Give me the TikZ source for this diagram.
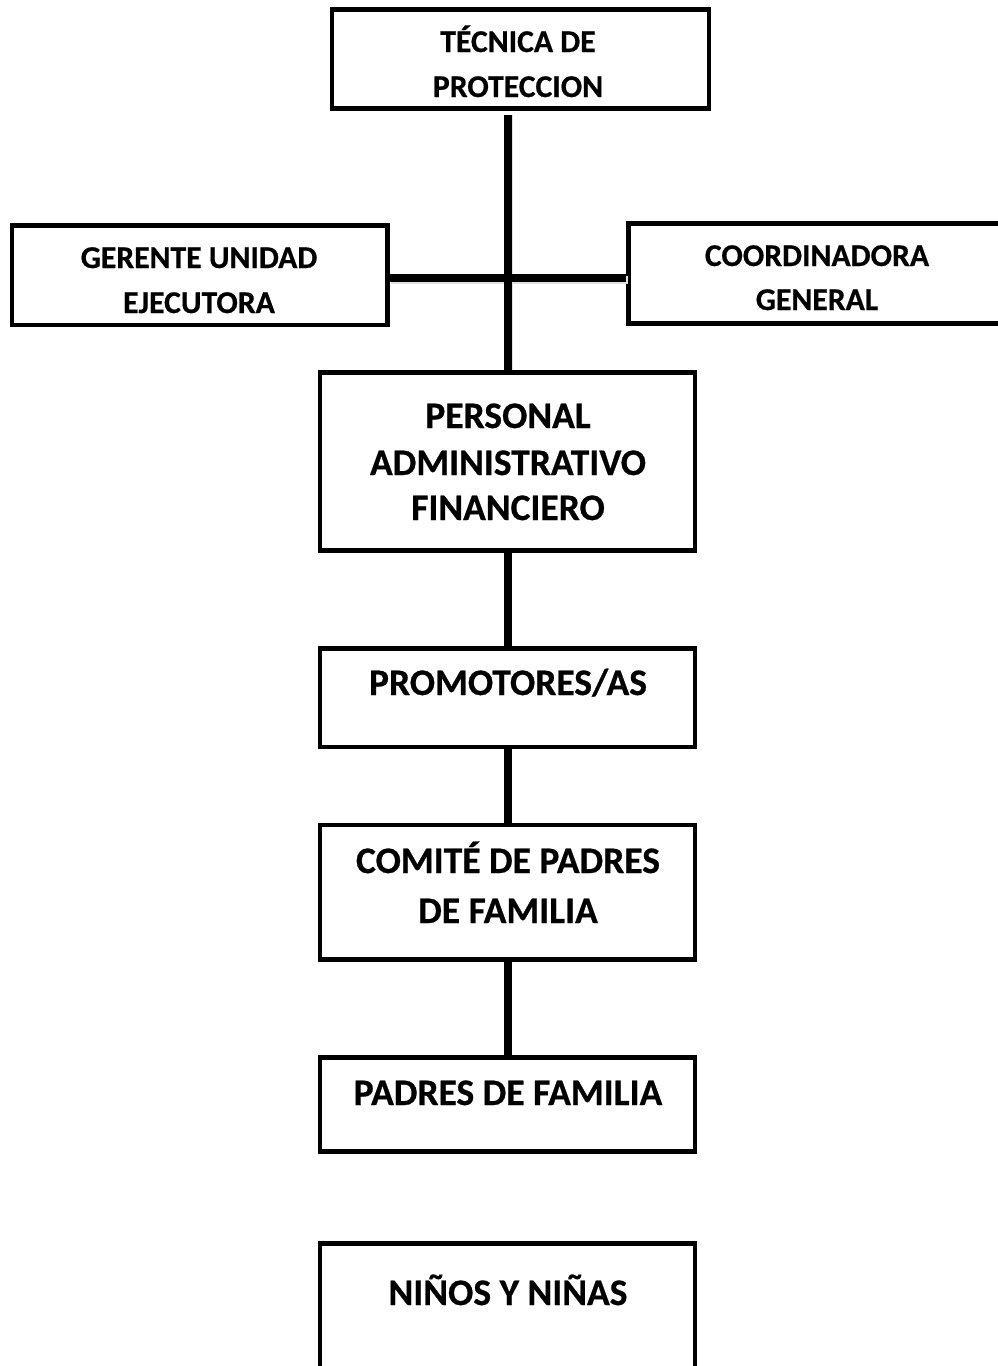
\documentclass[tikz,border=0pt]{standalone}
\usepackage{fontspec}
\setmainfont{Carlito}[BoldFeatures={FakeBold=0.6}]
\begin{document}
\begin{tikzpicture}[x=1pt,y=-1pt,
  box/.style={draw=black, line width=4.5pt, rectangle, inner sep=0pt, fill=white},
  conn/.style={line width=8pt, black},
  shad/.style={line width=8pt, black!12},
  big/.style={anchor=base, inner sep=0pt, font=\bfseries\fontsize{37.5}{44}\selectfont},
  sml/.style={anchor=base, inner sep=0pt, font=\bfseries\fontsize{31.7}{37}\selectfont},
]
\useasboundingbox (0,0) rectangle (998,1366);

% boxes
\node[box, minimum width=377pt, minimum height=99pt]   (tec) at (520.5,59) {};
\node[box, minimum width=375.5pt, minimum height=99.5pt] (ger) at (199.75,275.25) {};
\node[box, minimum width=377pt, minimum height=100pt]  (coo) at (817,273.5) {};
\node[box, minimum width=375pt, minimum height=178pt]  (per) at (507.5,461.5) {};
\node[box, minimum width=375pt, minimum height=98.5pt] (pro) at (507.5,697.75) {};
\node[box, minimum width=375pt, minimum height=134.5pt] (com) at (507.5,892.25) {};
\node[box, minimum width=375pt, minimum height=94pt]   (pad) at (507.5,1104.5) {};
\node[box, minimum width=375pt, minimum height=150pt]  (nin) at (507.5,1318.5) {};

% connectors (shadow first)
\draw[shad] ([xshift=1.5pt,yshift=-4.5pt]ger.east) -- ([xshift=1.5pt,yshift=-4.5pt]ger.east -| coo.west);
\draw[shad] ([xshift=1.5pt,yshift=-4pt]per.north |- tec.south) -- ([xshift=1.5pt]per.north);
\draw[conn] ([yshift=-2.25pt]ger.east) -- ([yshift=-2.25pt]ger.east -| coo.west);
\draw[conn] ([yshift=-4pt]per.north |- tec.south) -- (per.north);
\draw[conn] (per.south) -- (pro.north);
\draw[conn] (pro.south) -- (com.north);
\draw[conn] (com.south) -- (pad.north);

% texts
\node[sml] (tec1) at (518,52) {TÉCNICA DE};
\node[sml] (tec2) at (518,97) {PROTECCION};
\node[sml] (ger1) at (199,268) {GERENTE UNIDAD};
\node[sml] (ger2) at (199,313) {EJECUTORA};
\node[sml] (coo1) at (817,266) {COORDINADORA};
\node[sml] (coo2) at (817,310) {GENERAL};
\node[big] (per1) at (508,428) {PERSONAL};
\node[big] (per2) at (508,475) {ADMINISTRATIVO};
\node[big] (per3) at (508,520) {FINANCIERO};
\node[big] (pro1) at (508,695) {PROMOTORES/AS};
\node[big] (com1) at (508,873) {COMITÉ DE PADRES};
\node[big] (com2) at (508,923) {DE FAMILIA};
\node[big] (pad1) at (508,1105) {PADRES DE FAMILIA};
\node[big] (nin1) at (508,1305) {NIÑOS Y NIÑAS};
\end{tikzpicture}
\end{document}
